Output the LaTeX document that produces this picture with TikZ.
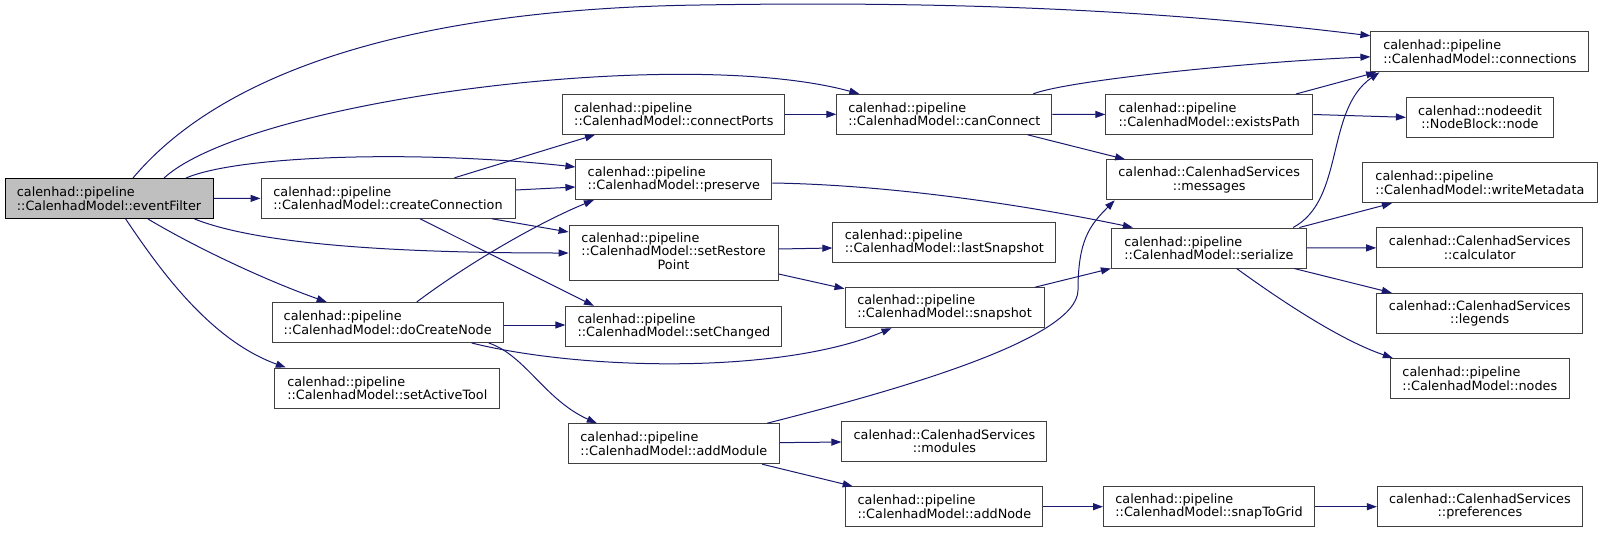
\documentclass[tikz,border=0pt]{standalone}
\usepackage{fontspec}
\setmainfont{DejaVu Sans}
\usetikzlibrary{arrows.meta}
\definecolor{callblue}{HTML}{191970}
\definecolor{boxline}{HTML}{404040}
\definecolor{curfill}{HTML}{BFBFBF}

\begin{document}
\begin{tikzpicture}[x=1pt, y=-1pt,
  fn/.style={draw=boxline, fill=white, line width=1pt, align=left, inner xsep=2pt, inner ysep=1pt, minimum height=40pt, font=\fontsize{12.8}{13.5}\selectfont},
  svc/.style={fn, align=center},
  cur/.style={fn, fill=curfill, draw=black},
  call/.style={draw=callblue, line width=1pt, -{Triangle[length=10pt,width=7pt]}}]
\useasboundingbox (0,0) rectangle (1603,533);
%caller
\node[cur, minimum width=208] (ef) at (109,198.5) {calenhad::pipeline\\::CalenhadModel::eventFilter};
%second column
\node[fn, minimum width=254] (cc) at (388,198.3) {calenhad::pipeline\\::CalenhadModel::createConnection};
\node[fn, minimum width=231] (dcn) at (387.7,322.5) {calenhad::pipeline\\::CalenhadModel::doCreateNode};
\node[fn, minimum width=225] (sat) at (387.3,388) {calenhad::pipeline\\::CalenhadModel::setActiveTool};
%third column
\node[fn, minimum width=222] (cp) at (673.8,114.3) {calenhad::pipeline\\::CalenhadModel::connectPorts};
\node[fn, minimum width=196] (pr) at (673.9,179.5) {calenhad::pipeline\\::CalenhadModel::preserve};
\node[fn, minimum width=209, minimum height=55] (srp) at (673.6,253) {\begin{tabular}{@{}l@{}}calenhad::pipeline\\::CalenhadModel::setRestore\\\multicolumn{1}{@{}c@{}}{Point}\end{tabular}};
\node[fn, minimum width=216] (sc) at (673.9,326.3) {calenhad::pipeline\\::CalenhadModel::setChanged};
\node[fn, minimum width=211] (am) at (673.8,443.7) {calenhad::pipeline\\::CalenhadModel::addModule};
%fourth column
\node[fn, minimum width=215] (can) at (944.3,114.3) {calenhad::pipeline\\::CalenhadModel::canConnect};
\node[fn, minimum width=223] (ls) at (944.4,242.5) {calenhad::pipeline\\::CalenhadModel::lastSnapshot};
\node[fn, minimum width=199] (sn) at (944.5,307.7) {calenhad::pipeline\\::CalenhadModel::snapshot};
\node[svc, minimum width=205] (mo) at (944.4,441) {calenhad::CalenhadServices\\::modules};
\node[fn, minimum width=197] (an) at (944.4,506.7) {calenhad::pipeline\\::CalenhadModel::addNode};
%fifth column
\node[fn, minimum width=207] (ep) at (1209.3,114.5) {calenhad::pipeline\\::CalenhadModel::existsPath};
\node[svc, minimum width=206] (msg) at (1209.2,179.8) {calenhad::CalenhadServices\\::messages};
\node[fn, minimum width=195] (ser) at (1208.9,248) {calenhad::pipeline\\::CalenhadModel::serialize};
\node[fn, minimum width=211] (stg) at (1209,506.7) {calenhad::pipeline\\::CalenhadModel::snapToGrid};
%sixth column
\node[fn, minimum width=218] (con) at (1479.9,51.8) {calenhad::pipeline\\::CalenhadModel::connections};
\node[svc, minimum width=147] (nd) at (1479.9,117.3) {calenhad::nodeedit\\::NodeBlock::node};
\node[fn, minimum width=235] (wm) at (1479.9,182.7) {calenhad::pipeline\\::CalenhadModel::writeMetadata};
\node[svc, minimum width=206] (calc) at (1479.7,247.8) {calenhad::CalenhadServices\\::calculator};
\node[svc, minimum width=206] (leg) at (1479.7,313.3) {calenhad::CalenhadServices\\::legends};
\node[fn, minimum width=179] (nds) at (1479.8,378.5) {calenhad::pipeline\\::CalenhadModel::nodes};
\node[svc, minimum width=205] (pref) at (1479.9,506.7) {calenhad::CalenhadServices\\::preferences};

%calls from eventFilter
\draw[call] ([shift={(24,0)}]ef.north) .. controls (190,110) and (330,10) .. (700,5) .. controls (1000,0) and (1200,15) .. ([shift={(0,-16)}]con.west);
\draw[call] ([shift={(55,0)}]ef.north) .. controls (250,100) and (680,45) .. ([shift={(-85,0)}]can.north);
\draw[call] ([shift={(77,0)}]ef.north) .. controls (240,155) and (420,150) .. ([shift={(0,-12.5)}]pr.west);
\draw[call] (ef) -- (cc);
\draw[call] ([shift={(85.6,0)}]ef.south) .. controls (260,245) and (400,253) .. (srp.west);
\draw[call] ([shift={(39,0)}]ef.south) .. controls (200,250) and (270,282) .. ([shift={(-61,0)}]dcn.north);
\draw[call] ([shift={(16.7,0)}]ef.south) .. controls (160,270) and (210,340) .. ([shift={(-101.5,0)}]sat.north);
%createConnection and doCreateNode
\draw[call] ([shift={(66.5,0)}]cc.north) -- ([shift={(-78.8,0)}]cp.south);
\draw[call] ([shift={(0,-8.3)}]cc.east) -- ([shift={(0,7.5)}]pr.west);
\draw[call] ([shift={(104,0)}]cc.south) -- ([shift={(0,-21)}]srp.west);
\draw[call] ([shift={(32,0)}]cc.south) -- ([shift={(-80,0)}]sc.north);
\draw[call] ([shift={(29,0)}]dcn.north) .. controls (470,262) and (540,222) .. ([shift={(-80,0)}]pr.south);
\draw[call] ([shift={(0,2.5)}]dcn.east) -- ([shift={(0,-1.3)}]sc.west);
\draw[call] ([shift={(101,0)}]dcn.south) .. controls (525,355) and (545,400) .. ([shift={(-77,0)}]am.north);
\draw[call] ([shift={(84,0)}]dcn.south) .. controls (580,370) and (780,375) .. ([shift={(-53,0)}]sn.south);
%middle
\draw[call] (cp) -- (can);
\draw[call] ([shift={(0,-4)}]srp.east) -- ([shift={(0,5.5)}]ls.west);
\draw[call] ([shift={(0,21)}]srp.east) -- ([shift={(0,1.5)}]sn.north west);
\draw[call] ([shift={(0,3.5)}]pr.east) .. controls (900,185) and (1040,208) .. ([shift={(-76,0)}]ser.north);
\draw[call] ([shift={(-9.5,0)}]sn.north east) -- (ser.south west);
\draw[call] ([shift={(-19,0)}]can.north east) .. controls (1070,80) and (1250,62) .. ([shift={(0,5)}]con.west);
\draw[call] (can) -- (ep);
\draw[call] ([shift={(83.3,0)}]can.south) -- ([shift={(19.4,0)}]msg.north west);
\draw[call] ([shift={(-17.3,0)}]ep.north east) -- ([shift={(5.8,0)}]con.south west);
\draw[call] (ep.east) -- (nd.west);
%serialize
\draw[call] ([shift={(-13.8,0)}]ser.north east) .. controls (1345,200) and (1325,110) .. ([shift={(9,0)}]con.south west);
\draw[call] ([shift={(-7.5,0)}]ser.north east) -- ([shift={(30,0)}]wm.south west);
\draw[call] (ser) -- (calc);
\draw[call] ([shift={(-12.8,0)}]ser.south east) -- ([shift={(15.6,0)}]leg.north west);
\draw[call] ([shift={(27.7,0)}]ser.south) .. controls (1280,300) and (1340,340) .. ([shift={(3,0)}]nds.north west);
%addModule
\draw[call] ([shift={(-12.6,0)}]am.north east) .. controls (890,392) and (1078,340) .. (1078,290) .. controls (1078,240) and (1090,225) .. ([shift={(9,0)}]msg.south west);
\draw[call] (am) -- (mo);
\draw[call] ([shift={(-17.6,0)}]am.south east) -- ([shift={(7.3,0)}]an.north west);
\draw[call] (an) -- (stg);
\draw[call] (stg) -- (pref);
\end{tikzpicture}
\end{document}
